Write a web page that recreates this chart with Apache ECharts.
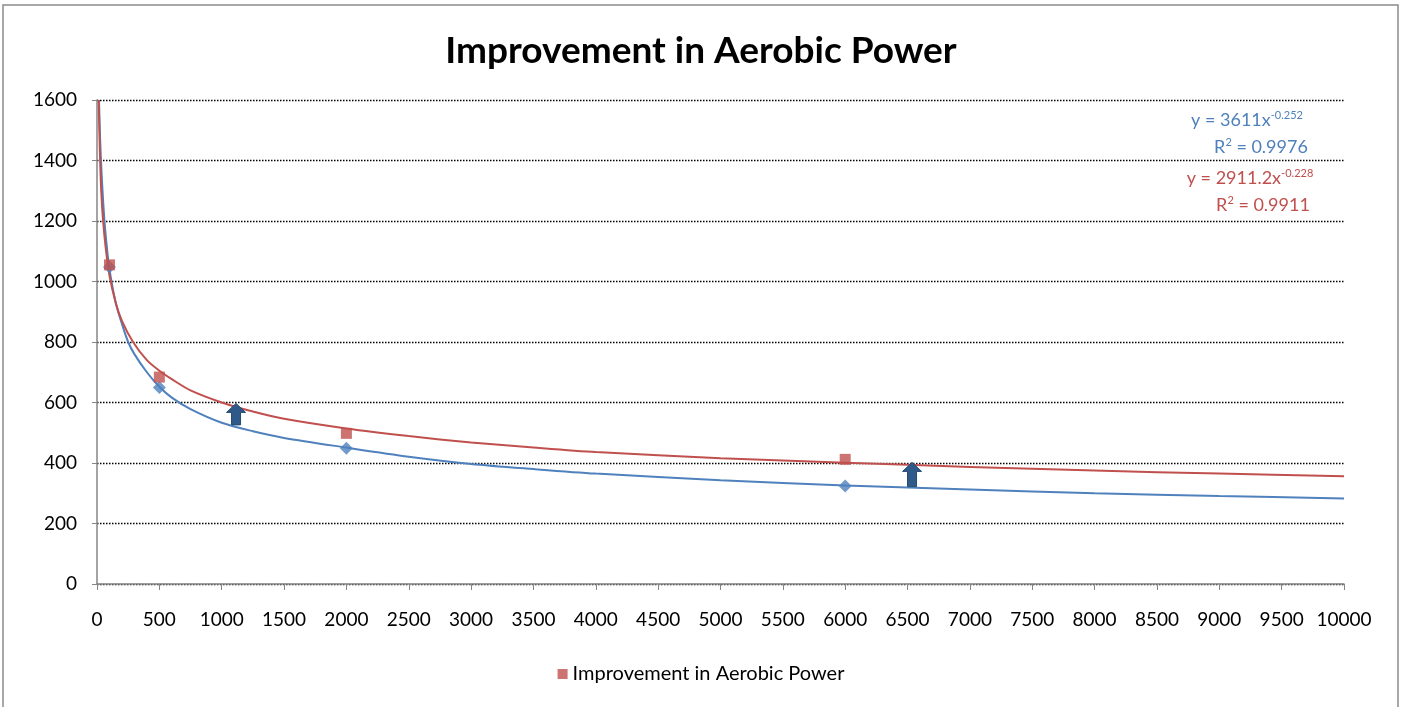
<!DOCTYPE html>
<html>
<head>
<meta charset="utf-8">
<script src="https://cdn.jsdelivr.net/npm/echarts@6/dist/echarts.min.js"></script>
<style>
  html, body { margin: 0; padding: 0; background: #fff; }
  #chart { width: 1402px; height: 707px; }
</style>
</head>
<body>
<div id="chart"></div>
<script>
// measured points
var pointX = [100, 500, 2000, 6000];
var bluePoints = [1048, 650, 449, 324];
var redPoints = [1055, 684, 498, 412];

// trend lines
var blueTrendX = [16, 25, 40, 60, 80, 100, 150, 200, 250, 300, 400, 500, 600, 750, 1000, 1250, 1500, 2000, 2500, 3000, 3500, 4000, 5000, 6000, 7000, 8000, 9000, 10000];
var blueTrendY = [1600, 1470, 1330, 1200, 1110, 1040, 930, 860, 800, 760, 700, 652, 616, 578, 533, 505, 483, 451, 421, 397, 380, 365, 343, 326, 312, 300, 291, 283];
var redTrendX = [14, 20, 25, 35, 49, 70, 100, 150, 200, 289, 400, 500, 600, 750, 1000, 1250, 1500, 2000, 2500, 3000, 3500, 4000, 5000, 6000, 7000, 8000, 9000, 10000];
var redTrendY = [1600, 1480, 1400, 1290, 1200, 1110, 1020, 930, 870, 800, 740, 705, 677, 640, 600, 570, 546, 514, 489, 468, 451, 436, 416, 401, 387, 375, 365, 356];

// arrows: x, bottom, top
var arrowX = [1115, 6536];
var arrowBottom = [526, 322];
var arrowTop = [597, 402];

var blueColor = '#4f81bd';
var redColor = '#c0504d';
var font = 'Lato, "Open Sans", sans-serif';

function pairs(xs, ys) {
    var out = [];
    for (var i = 0; i < xs.length; i++) out.push([xs[i], ys[i]]);
    return out;
}

// rich text for the trendline equations
function eqText(x, y, text, color) {
    return {
        type: 'text',
        x: x, y: y,
        silent: true,
        style: {
            text: text,
            align: 'center',
            verticalAlign: 'middle',
            rich: {
                a: { fontFamily: font, fontSize: 18, fill: color },
                s: { fontFamily: font, fontSize: 11, fill: color, padding: [0, 0, 9, 0] }
            }
        }
    };
}

var myChart = echarts.init(document.getElementById('chart'));
var option = {
    animation: false,
    backgroundColor: '#fff',
    title: {
        text: 'Improvement in Aerobic Power',
        left: 'center',
        top: 28,
        textStyle: { fontFamily: font, fontSize: 37, fontWeight: 'bold', color: '#000' }
    },
    legend: {
        bottom: 18,
        left: 'center',
        icon: 'rect',
        itemWidth: 10,
        itemHeight: 10,
        itemGap: 7,
        data: ['Improvement in Aerobic Power'],
        textStyle: { fontFamily: font, fontSize: 20, color: '#000' }
    },
    grid: { left: 97, right: 58, top: 100, bottom: 123 },
    xAxis: {
        type: 'value',
        min: 0,
        max: 10000,
        interval: 500,
        axisLine: { lineStyle: { color: '#868686', width: 1.5 } },
        axisTick: { show: true, length: 6, lineStyle: { color: '#868686' } },
        axisLabel: { fontFamily: font, fontSize: 19, color: '#000', margin: 26, formatter: function (v) { return String(v); } },
        splitLine: { show: false }
    },
    yAxis: {
        type: 'value',
        min: 0,
        max: 1600,
        interval: 200,
        axisLine: { show: true, lineStyle: { color: '#868686', width: 1.5 } },
        axisTick: { show: true, length: 5, lineStyle: { color: '#868686' } },
        axisLabel: { fontFamily: font, fontSize: 19, color: '#000', margin: 20, formatter: function (v) { return String(v); } },
        splitLine: { show: true, lineStyle: { color: '#000', type: [1.5, 1.5], width: 1.4 } }
    },
    graphic: [
        {
            type: 'rect',
            shape: { x: 3, y: 5, width: 1395, height: 720 },
            style: { fill: 'none', stroke: '#8c8c8c', lineWidth: 1.5 },
            silent: true
        },
        eqText(1247, 120, '{a|y = 3611x}{s|-0.252}', blueColor),
        eqText(1261, 147, '{a|R}{s|2}{a| = 0.9976}', blueColor),
        eqText(1250, 178, '{a|y = 2911.2x}{s|-0.228}', redColor),
        eqText(1263, 205, '{a|R}{s|2}{a| = 0.9911}', redColor)
    ],
    series: [
        {
            name: 'Blue trend',
            type: 'line',
            data: pairs(blueTrendX, blueTrendY),
            smooth: 0.3,
            showSymbol: false,
            clip: true,
            lineStyle: { color: blueColor, width: 2 },
            z: 3
        },
        {
            name: 'Red trend',
            type: 'line',
            data: pairs(redTrendX, redTrendY),
            smooth: 0.3,
            showSymbol: false,
            clip: true,
            lineStyle: { color: redColor, width: 2 },
            z: 3
        },
        {
            name: 'Blue points',
            type: 'scatter',
            data: pairs(pointX, bluePoints),
            symbol: 'diamond',
            symbolSize: 13,
            itemStyle: { color: blueColor },
            z: 4
        },
        {
            name: 'Improvement in Aerobic Power',
            type: 'scatter',
            data: pairs(pointX, redPoints),
            symbol: 'rect',
            symbolSize: 11,
            itemStyle: { color: redColor },
            z: 4
        },
        {
            name: 'Arrows',
            type: 'custom',
            data: arrowX.map(function (x, i) { return [x, arrowBottom[i], arrowTop[i]]; }),
            renderItem: function (params, api) {
                var b = api.coord([api.value(0), api.value(1)]);
                var t = api.coord([api.value(0), api.value(2)]);
                var cx = b[0], hw = 4.5, headW = 9.5, headH = 9;
                return {
                    type: 'polygon',
                    shape: {
                        points: [
                            [cx - hw, b[1]], [cx - hw, t[1] + headH], [cx - headW, t[1] + headH],
                            [cx, t[1]], [cx + headW, t[1] + headH], [cx + hw, t[1] + headH], [cx + hw, b[1]]
                        ]
                    },
                    style: { fill: '#2f5989', stroke: '#264a73', lineWidth: 1 }
                };
            },
            z: 5
        }
    ]
};
myChart.setOption(option);
</script>
</body>
</html>
